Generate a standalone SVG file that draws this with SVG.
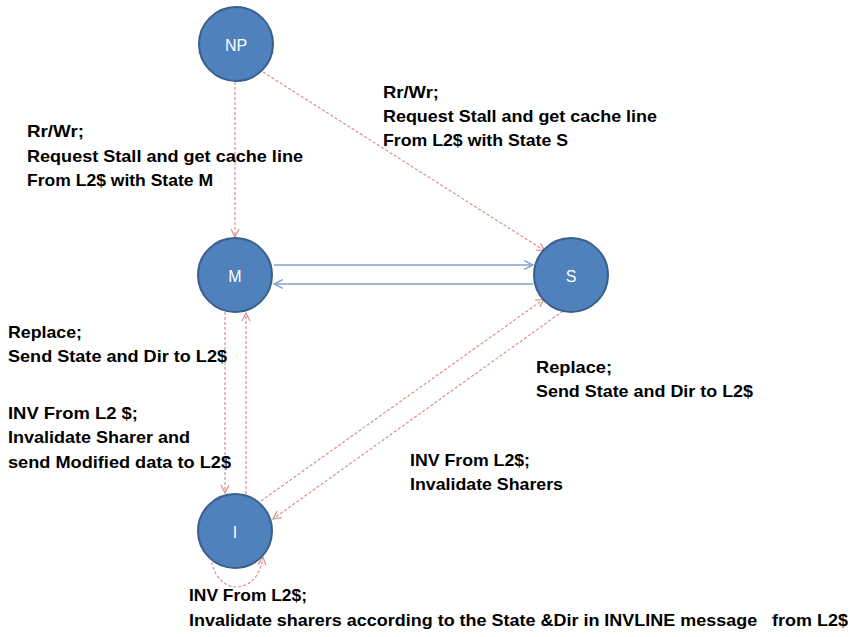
<svg xmlns="http://www.w3.org/2000/svg" width="854" height="637" viewBox="0 0 854 637">
  <style>
    .state circle { fill: #4F81BD; stroke: #3A5F8C; stroke-width: 2; }
    .state text { fill: #FFFFFF; font-family: "Liberation Sans", Arial, sans-serif; font-size: 16px; text-anchor: middle; dominant-baseline: central; }
    .red { fill: none; stroke: #D9908E; stroke-width: 1.2; stroke-dasharray: 3 2; }
    .blue { fill: none; stroke: #7FA2CF; stroke-width: 1.3; }
    .lbl { font-family: "Liberation Sans", Arial, sans-serif; font-weight: bold; font-size: 16.5px; fill: #000000; }
  </style>
  <defs>
    <marker id="arrRed" viewBox="0 0 10 10" refX="9" refY="5" markerWidth="10" markerHeight="10" markerUnits="userSpaceOnUse" orient="auto">
      <path d="M1,1 L9,5 L1,9" fill="none" stroke="#D9908E" stroke-width="1.2"/>
    </marker>
    <marker id="arrBlue" viewBox="0 0 10 10" refX="9" refY="5" markerWidth="11" markerHeight="11" markerUnits="userSpaceOnUse" orient="auto">
      <path d="M1,1 L9,5 L1,9" fill="none" stroke="#7FA2CF" stroke-width="1.3"/>
    </marker>
  </defs>

  <rect width="854" height="637" fill="#FFFFFF"/>

  <!-- transitions -->
  <g id="connectors">
    <line class="red" x1="235" y1="82" x2="235" y2="237" marker-end="url(#arrRed)"/>
    <line class="red" x1="263" y1="72" x2="545" y2="251" marker-end="url(#arrRed)"/>
    <line class="blue" x1="274" y1="265" x2="533" y2="265" marker-end="url(#arrBlue)"/>
    <line class="blue" x1="533" y1="284" x2="274" y2="284" marker-end="url(#arrBlue)"/>
    <line class="red" x1="225" y1="312" x2="225" y2="493" marker-end="url(#arrRed)"/>
    <line class="red" x1="246" y1="494" x2="246" y2="313" marker-end="url(#arrRed)"/>
    <line class="red" x1="261" y1="501" x2="544" y2="299" marker-end="url(#arrRed)"/>
    <line class="red" x1="563" y1="311" x2="273" y2="519" marker-end="url(#arrRed)"/>
    <path class="red" d="M211,557 C215,597 258,597 263,557" marker-end="url(#arrRed)"/>
  </g>

  <!-- states -->
  <g id="NP" class="state">
    <circle cx="236" cy="44" r="37"/>
    <text x="236" y="45">NP</text>
  </g>
  <g id="M" class="state">
    <circle cx="235" cy="275" r="37"/>
    <text x="235" y="276">M</text>
  </g>
  <g id="S" class="state">
    <circle cx="571" cy="275" r="37"/>
    <text x="571" y="276">S</text>
  </g>
  <g id="I" class="state">
    <circle cx="235" cy="531" r="37"/>
    <text x="235" y="532">I</text>
  </g>

  <!-- transition labels -->
  <g id="labels" class="lbl">
    <text x="27" y="137" textLength="57" lengthAdjust="spacingAndGlyphs">Rr/Wr;</text>
    <text x="27" y="162" textLength="276" lengthAdjust="spacingAndGlyphs">Request Stall and get cache line</text>
    <text x="27" y="186" textLength="186" lengthAdjust="spacingAndGlyphs">From L2$ with State M</text>

    <text x="383" y="98" textLength="56" lengthAdjust="spacingAndGlyphs">Rr/Wr;</text>
    <text x="383" y="122" textLength="274" lengthAdjust="spacingAndGlyphs">Request Stall and get cache line</text>
    <text x="383" y="146" textLength="185" lengthAdjust="spacingAndGlyphs">From L2$ with State S</text>

    <text x="8" y="338" textLength="74" lengthAdjust="spacingAndGlyphs">Replace;</text>
    <text x="8" y="362" textLength="219" lengthAdjust="spacingAndGlyphs">Send State and Dir to L2$</text>

    <text x="8" y="419" textLength="130" lengthAdjust="spacingAndGlyphs">INV From L2 $;</text>
    <text x="8" y="443" textLength="182" lengthAdjust="spacingAndGlyphs">Invalidate Sharer and</text>
    <text x="8" y="468" textLength="223" lengthAdjust="spacingAndGlyphs">send Modified data to L2$</text>

    <text x="536" y="373" textLength="76" lengthAdjust="spacingAndGlyphs">Replace;</text>
    <text x="536" y="397" textLength="217" lengthAdjust="spacingAndGlyphs">Send State and Dir to L2$</text>

    <text x="410" y="466" textLength="120" lengthAdjust="spacingAndGlyphs">INV From L2$;</text>
    <text x="410" y="490" textLength="153" lengthAdjust="spacingAndGlyphs">Invalidate Sharers</text>

    <text x="189" y="601" textLength="118" lengthAdjust="spacingAndGlyphs">INV From L2$;</text>
    <text x="189" y="626" xml:space="preserve" textLength="659" lengthAdjust="spacingAndGlyphs">Invalidate sharers according to the State &amp;Dir in INVLINE message   from L2$</text>
  </g>
</svg>
